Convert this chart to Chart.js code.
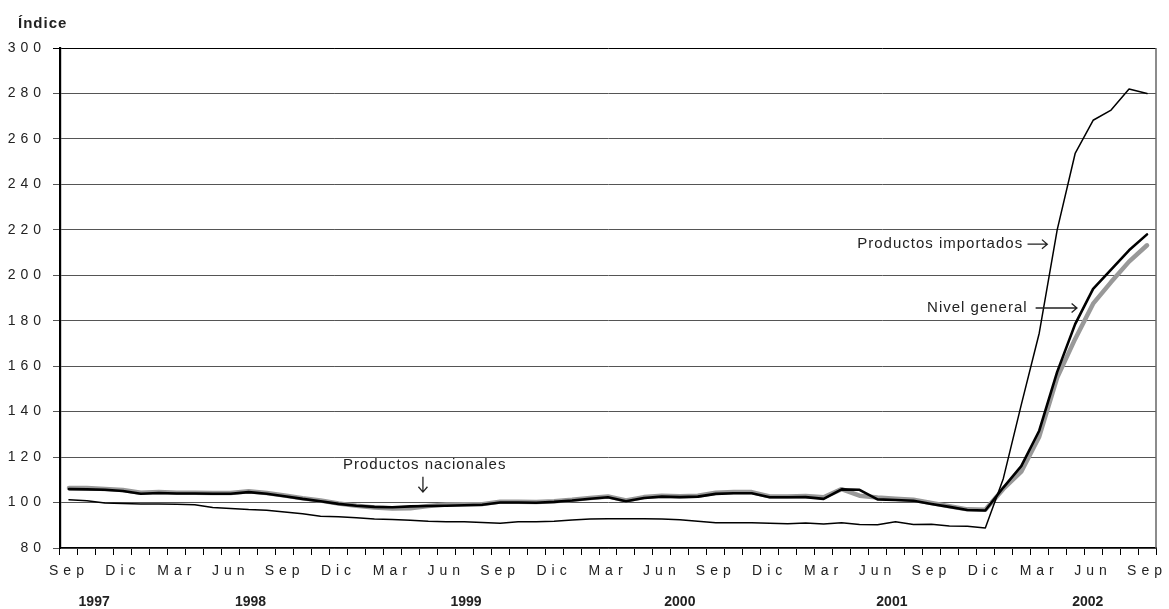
<!DOCTYPE html>
<html>
<head>
<meta charset="utf-8">
<script src="https://cdn.jsdelivr.net/npm/chart.js@4.4.1/dist/chart.umd.min.js"></script>
<style>
  html, body { margin: 0; padding: 0; background: #fff; }
  #wrap { width: 1169px; height: 609px; }
</style>
</head>
<body>
<div id="wrap"><canvas id="chart" width="1169" height="609"></canvas></div>
<script>
// months, Sep 1997 .. Sep 2002
const months = [
  'Sep', 'Oct', 'Nov', 'Dic',
  'Ene', 'Feb', 'Mar', 'Abr', 'May', 'Jun', 'Jul', 'Ago', 'Sep', 'Oct', 'Nov', 'Dic',
  'Ene', 'Feb', 'Mar', 'Abr', 'May', 'Jun', 'Jul', 'Ago', 'Sep', 'Oct', 'Nov', 'Dic',
  'Ene', 'Feb', 'Mar', 'Abr', 'May', 'Jun', 'Jul', 'Ago', 'Sep', 'Oct', 'Nov', 'Dic',
  'Ene', 'Feb', 'Mar', 'Abr', 'May', 'Jun', 'Jul', 'Ago', 'Sep', 'Oct', 'Nov', 'Dic',
  'Ene', 'Feb', 'Mar', 'Abr', 'May', 'Jun', 'Jul', 'Ago', 'Sep'
];

const years = ['1997', '1998', '1999', '2000', '2001', '2002'];
// month index under which each year label sits
const yearAt = [1.4, 10.1, 22.1, 34.0, 45.8, 56.7];

const nivelGeneral = [
  105.9, 105.8, 105.6, 105.1, 103.9, 104.2, 104.0, 104.0, 103.9, 103.9,
  104.6, 103.9, 102.8, 101.6, 100.6, 99.4, 98.6, 98.1, 97.9, 98.3,
  98.5, 98.6, 98.8, 99.0, 100.0, 100.0, 99.9, 100.3, 100.9, 101.7,
  102.3, 100.6, 102.0, 102.6, 102.4, 102.6, 103.8, 104.1, 104.1, 102.3,
  102.3, 102.4, 101.6, 105.8, 105.6, 101.4, 101.1, 100.8, 99.4, 98.1,
  96.7, 96.5, 106.6, 116.0, 131.6, 157.5, 178.5, 194.0, 202.5, 211.0,
  218.0
];

const nacionales = [
  106.4, 106.4, 106.0, 105.5, 104.3, 104.6, 104.3, 104.3, 104.2, 104.2,
  105.0, 104.2, 103.1, 101.9, 100.9, 99.6, 98.6, 97.8, 97.4, 97.5,
  98.5, 99.1, 99.2, 99.3, 100.4, 100.3, 100.2, 100.6, 101.2, 102.0,
  102.7, 100.9, 102.4, 103.0, 102.8, 103.0, 104.3, 104.6, 104.6, 102.7,
  102.7, 102.9, 102.3, 105.9, 103.0, 102.2, 101.7, 101.2, 99.8, 98.4,
  97.0, 96.8, 106.0, 113.6, 129.0, 155.0, 172.0, 187.5, 197.0, 206.0,
  213.2
];

const importados = [
  101.2, 100.8, 99.8, 99.6, 99.4, 99.4, 99.3, 99.0, 97.8, 97.4,
  96.9, 96.6, 95.8, 95.1, 94.0, 93.8, 93.3, 92.8, 92.5, 92.2,
  91.8, 91.6, 91.5, 91.2, 90.9, 91.5, 91.6, 91.8, 92.3, 92.8,
  92.9, 92.9, 92.9, 92.8, 92.4, 91.8, 91.1, 91.1, 91.1, 90.9,
  90.7, 91.0, 90.6, 91.1, 90.3, 90.2, 91.5, 90.3, 90.4, 89.7,
  89.6, 88.8, 110.5, 143.0, 174.5, 220.0, 253.6, 268.2, 272.7, 282.0,
  280.0
];

const yMin = 80, yMax = 300, yStep = 20;

const FONT = "'Liberation Sans', Arial, Helvetica, sans-serif";

// annotations, anchored in data space: [month index, value]
const notes = [
  { text: 'Productos nacionales', at: [19.8, 116.6], align: 'center',
    arrow: [[19.7, 111.4], [19.7, 104.6]] },
  { text: 'Productos importados', at: [53.05, 213.7], align: 'right',
    arrow: [[53.35, 213.7], [54.45, 213.7]] },
  { text: 'Nivel general', at: [53.3, 185.6], align: 'right',
    arrow: [[53.8, 185.6], [56.1, 185.6]] }
];

function drawArrow(ctx, x1, y1, x2, y2) {
  const a = Math.atan2(y2 - y1, x2 - x1);
  const h = 7;
  ctx.beginPath();
  ctx.moveTo(x1, y1);
  ctx.lineTo(x2, y2);
  ctx.moveTo(x2 - h * Math.cos(a - 0.7), y2 - h * Math.sin(a - 0.7));
  ctx.lineTo(x2, y2);
  ctx.lineTo(x2 - h * Math.cos(a + 0.7), y2 - h * Math.sin(a + 0.7));
  ctx.stroke();
}

const extras = {
  id: 'extras',
  beforeDraw(chart) {
    // spaced-out tick labels like the original
    chart.ctx.letterSpacing = '5px';
  },
  afterDraw(chart) {
    const ctx = chart.ctx;
    const x = chart.scales.x, y = chart.scales.y;
    const area = chart.chartArea;
    ctx.save();

    // right frame line
    ctx.strokeStyle = '#666';
    ctx.lineWidth = 1.5;
    ctx.beginPath();
    ctx.moveTo(area.right, area.top);
    ctx.lineTo(area.right, area.bottom);
    ctx.stroke();

    // axis title
    ctx.letterSpacing = '1px';
    ctx.fillStyle = '#222';
    ctx.font = 'bold 15px ' + FONT;
    ctx.textAlign = 'left';
    ctx.textBaseline = 'alphabetic';
    ctx.fillText('Índice', 18, 28);

    // year labels
    ctx.letterSpacing = '0px';
    ctx.font = 'bold 14px ' + FONT;
    ctx.textAlign = 'center';
    ctx.textBaseline = 'middle';
    years.forEach((yr, i) => {
      ctx.fillText(yr, x.getPixelForValue(yearAt[i]), 602);
    });

    // annotations
    ctx.letterSpacing = '1px';
    ctx.font = '15px ' + FONT;
    ctx.strokeStyle = '#222';
    ctx.lineWidth = 1.3;
    notes.forEach(n => {
      ctx.textAlign = n.align;
      const tx = x.getPixelForValue(n.at[0]) + (n.align === 'right' ? 1 : 0);
      ctx.fillText(n.text, tx, y.getPixelForValue(n.at[1]));
      const p = n.arrow;
      drawArrow(ctx,
        x.getPixelForValue(p[0][0]), y.getPixelForValue(p[0][1]),
        x.getPixelForValue(p[1][0]), y.getPixelForValue(p[1][1]));
    });

    ctx.restore();
    ctx.letterSpacing = '0px';
  }
};

const ctx = document.getElementById('chart').getContext('2d');
const chart = new Chart(ctx, {
  type: 'line',
  data: {
    labels: months,
    datasets: [
      {
        label: 'Nivel general',
        data: nivelGeneral,
        borderColor: '#000',
        borderWidth: 2.6
      },
      {
        label: 'Productos importados',
        data: importados,
        borderColor: '#000',
        borderWidth: 1.5
      },
      {
        label: 'Productos nacionales',
        data: nacionales,
        borderColor: '#999',
        borderWidth: 4.5
      }
    ]
  },
  options: {
    responsive: false,
    animation: false,
    events: [],
    layout: { padding: { top: 48, right: 13, left: 0, bottom: 0 } },
    elements: {
      point: { radius: 0 },
      line: { tension: 0, borderJoinStyle: 'round', borderCapStyle: 'round' }
    },
    plugins: {
      legend: { display: false },
      tooltip: { enabled: false },
      title: { display: false }
    },
    scales: {
      x: {
        offset: true,
        grid: {
          offset: true,
          drawOnChartArea: false,
          drawTicks: true,
          tickLength: 7,
          color: '#000'
        },
        border: { color: '#000', width: 1.2 },
        ticks: {
          autoSkip: false,
          maxRotation: 0,
          minRotation: 0,
          padding: 8,
          color: '#222',
          font: { family: FONT, size: 14 },
          callback: (val, i) => (i % 3 === 0 ? months[i] : '')
        },
        afterFit(scale) { scale.height = 61; }
      },
      y: {
        min: yMin,
        max: yMax,
        grid: {
          color: ctx => (ctx.tick && ctx.tick.value === yMax ? '#000' : '#555'),
          lineWidth: 1,
          drawTicks: true,
          tickLength: 7
        },
        border: { color: '#000', width: 2.2 },
        ticks: {
          stepSize: yStep,
          padding: 7,
          color: '#222',
          font: { family: FONT, size: 14 }
        },
        afterFit(scale) { scale.width = 60; }
      }
    }
  },
  plugins: [extras]
});
</script>
</body>
</html>
